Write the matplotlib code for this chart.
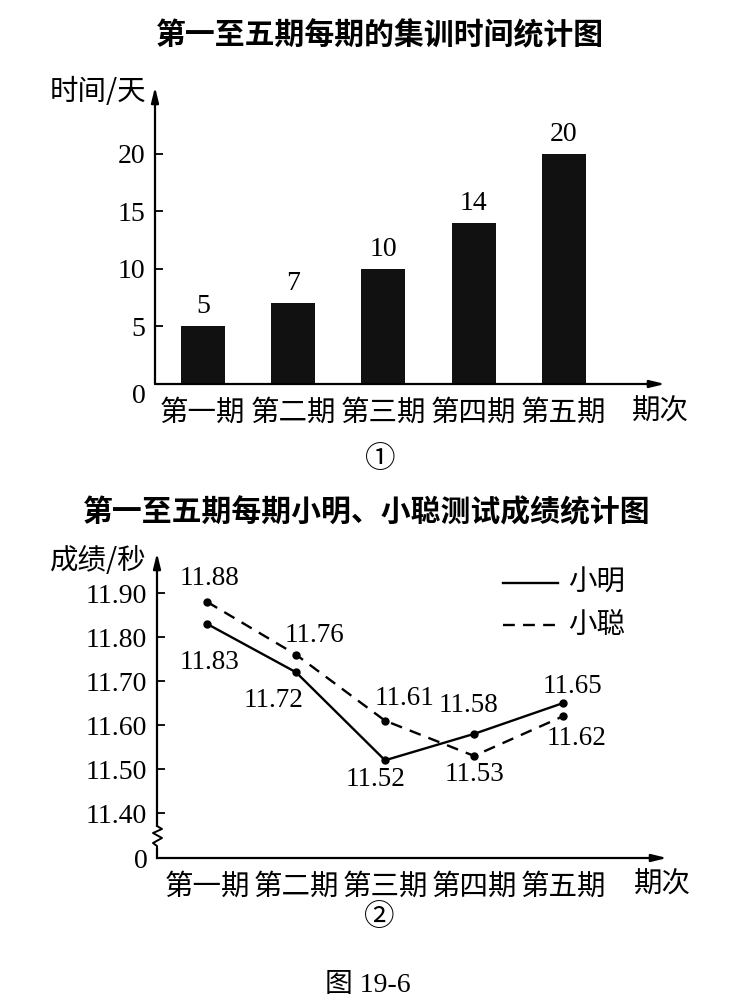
import matplotlib
matplotlib.use("Agg")
import matplotlib.pyplot as plt

# data
periods = ["第一期", "第二期", "第三期", "第四期", "第五期"]
days = [5, 7, 10, 14, 20]
day_ticks = [0, 5, 10, 15, 20]

xiaoming = [11.83, 11.72, 11.52, 11.58, 11.65]
xiaocong = [11.88, 11.76, 11.61, 11.53, 11.62]
score_ticks = [11.40, 11.50, 11.60, 11.70, 11.80, 11.90]

# label offsets (px) for data labels: (dx, dy) with dy positive = up
xm_off = [(2, -39), (-22, -28), (-9, -19), (-6, 28), (9, 17)]
xc_off = [(2, 23), (18, 19), (19, 22), (0, -19), (14, -22)]

W, H = 735, 1007
CJK = "Noto Sans CJK SC"
NUM = ["Liberation Serif", "Noto Sans CJK SC"]

fig = plt.figure(figsize=(W / 100, H / 100), dpi=100)


def rect(l, t, r, b):
    return [l / W, 1 - b / H, (r - l) / W, (b - t) / H]


def ftext(x, y, s, **kw):
    fig.text(x / W, 1 - y / H, s, ha=kw.pop("ha", "center"), va=kw.pop("va", "center"), **kw)


def style_axes(ax):
    for s in ["top", "right", "left", "bottom"]:
        ax.spines[s].set_visible(False)
    ax.tick_params(axis="x", length=0, pad=10)
    ax.tick_params(axis="y", direction="in", length=6, width=1.3, pad=7)
    for lab in ax.get_yticklabels():
        lab.set_fontfamily(NUM)
        lab.set_fontsize(20)
    for lab in ax.get_xticklabels():
        lab.set_fontfamily(CJK)
        lab.set_fontsize(20.5)
    ax.annotate("", xy=(1, 0), xytext=(0, 0), xycoords="axes fraction",
                arrowprops=dict(arrowstyle="-|>,head_length=0.9,head_width=0.22",
                                lw=1.6, color="k", shrinkA=0, shrinkB=0))


# ---------- chart 1: bars ----------
ax1 = fig.add_axes(rect(155, 87, 665, 384))
xs = list(range(len(periods)))
ax1.bar(xs, days, width=0.49, color="#111111")
ax1.set_xlim(-0.53, 5.12)
ax1.set_ylim(0, 25.8)
ax1.set_xticks(xs, periods)
ax1.set_yticks(day_ticks, [str(t) for t in day_ticks])
style_axes(ax1)
ax1.get_yticklabels()[0].set_va("top")
ax1.annotate("", xy=(0, 1), xytext=(0, 0), xycoords="axes fraction",
             arrowprops=dict(arrowstyle="-|>,head_length=0.9,head_width=0.22",
                             lw=1.6, color="k", shrinkA=0, shrinkB=0))
for x, d in zip(xs, days):
    ax1.annotate(str(d), (x, d), xytext=(0, 5), textcoords="offset points",
                 ha="center", va="bottom", fontsize=20, family=NUM)

ftext(380, 35, "第一至五期每期的集训时间统计图", family=CJK, fontsize=21.5, fontweight="bold")
ftext(146, 92, "时间/天", ha="right", family=CJK, fontsize=20.5)
ftext(660, 412, "期次", family=CJK, fontsize=20.5)
ftext(380, 460, "①", family=CJK, fontsize=22)

# ---------- chart 2: lines ----------
L, T, R, B = 157, 553, 667, 858
ax2 = fig.add_axes(rect(L, T, R, B))
ymin, ymax = 11.298, 11.991
ax2.set_xlim(-0.562, 5.168)
ax2.set_ylim(ymin, ymax)
ax2.plot(xs, xiaoming, color="k", lw=1.7, marker="o", ms=5)
ax2.plot(xs, xiaocong, color="k", lw=1.7, ls=(0, (5, 3.5)), marker="o", ms=5)
ax2.set_xticks(xs, periods)
ax2.set_yticks([ymin] + score_ticks, ["0"] + [f"{t:.2f}" for t in score_ticks])
style_axes(ax2)
ax2.yaxis.get_major_ticks()[0].tick1line.set_visible(False)

# y axis with break mark
def afr(px, py):
    return (px - L) / (R - L), (B - py) / (B - T)

zig = [(157, 849), (157, 846), (153, 843), (162, 838), (153, 833), (162, 829), (157, 826)]
zx, zy = zip(*[afr(px, py) for px, py in zig])
ax2.plot(zx, zy, color="k", lw=1.4, transform=ax2.transAxes, clip_on=False)
ax2.plot([0, 0], [0, afr(157, 849)[1]], color="k", lw=1.6, transform=ax2.transAxes, clip_on=False)
ax2.annotate("", xy=(0, 1), xytext=afr(157, 826), xycoords="axes fraction",
             arrowprops=dict(arrowstyle="-|>,head_length=0.9,head_width=0.22",
                             lw=1.6, color="k", shrinkA=0, shrinkB=0))

for x, v, (dx, dy) in zip(xs, xiaoming, xm_off):
    ax2.annotate(f"{v:.2f}", (x, v), xytext=(dx * 0.72, dy * 0.72), textcoords="offset points",
                 ha="center", va="center", fontsize=19.5, family=NUM)
for x, v, (dx, dy) in zip(xs, xiaocong, xc_off):
    ax2.annotate(f"{v:.2f}", (x, v), xytext=(dx * 0.72, dy * 0.72), textcoords="offset points",
                 ha="center", va="center", fontsize=19.5, family=NUM)

# legend drawn by hand
lx0, lx1 = afr(503, 0)[0], afr(558, 0)[0]
ax2.plot([lx0, lx1], [afr(0, 583)[1]] * 2, color="k", lw=1.7, transform=ax2.transAxes)
ax2.plot([lx0, lx1], [afr(0, 625)[1]] * 2, color="k", lw=1.7, ls=(0, (5, 3.5)), transform=ax2.transAxes)
ftext(568, 583, "小明", ha="left", family=CJK, fontsize=20.5)
ftext(568, 625, "小聪", ha="left", family=CJK, fontsize=20.5)

ftext(367, 512, "第一至五期每期小明、小聪测试成绩统计图", family=CJK, fontsize=21.5, fontweight="bold")
ftext(147, 561, "成绩/秒", ha="right", family=CJK, fontsize=20.5)
ftext(662, 885, "期次", family=CJK, fontsize=20.5)
ftext(379, 917, "②", family=CJK, fontsize=22)
ftext(368, 986, "图 19-6", family=NUM, fontsize=20)

fig.savefig("out.png", dpi=100)
